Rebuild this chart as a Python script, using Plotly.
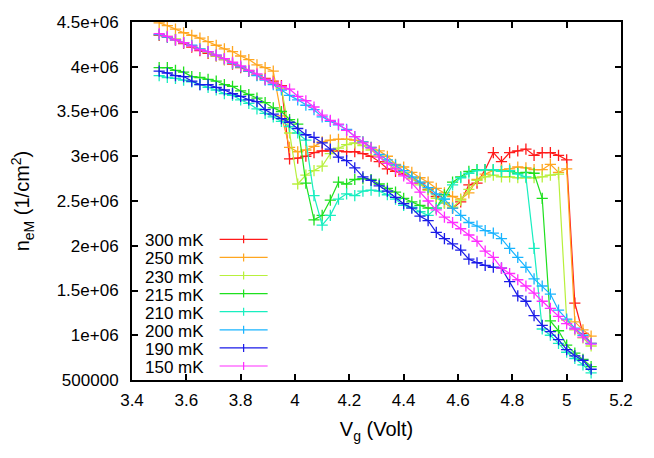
import plotly.graph_objects as go

# Gate voltage (Volt)
vg = [3.50, 3.53, 3.56, 3.59, 3.62, 3.65, 3.68, 3.71, 3.74, 3.77,
      3.80, 3.83, 3.86, 3.89, 3.92, 3.95, 3.98, 4.01, 4.04, 4.07,
      4.10, 4.13, 4.16, 4.19, 4.22, 4.25, 4.28, 4.31, 4.34, 4.37,
      4.40, 4.43, 4.46, 4.49, 4.52, 4.55, 4.58, 4.61, 4.64, 4.67,
      4.70, 4.73, 4.76, 4.79, 4.82, 4.85, 4.88, 4.91, 4.94, 4.97,
      5.00, 5.03, 5.06, 5.09]

# n_eM in units of 1e6 / cm^2
n_300 = [4.35, 4.33, 4.30, 4.26, 4.22, 4.18, 4.15, 4.12, 4.08, 4.03,
         3.99, 3.95, 3.91, 3.87, 3.84, 3.79, 2.97, 2.98, 3.00, 3.04,
         3.06, 3.06, 3.06, 3.05, 3.05, 3.03, 3.00, 2.94, 2.86, 2.83,
         2.80, 2.75, 2.70, 2.63, 2.55, 2.48, 2.42, 2.49, 2.68, 2.70,
         2.85, 3.04, 2.94, 3.04, 3.06, 3.08, 3.01, 3.04, 3.04, 3.01,
         2.96, 1.36, 1.02, 0.91]
n_250 = [4.49, 4.46, 4.42, 4.38, 4.35, 4.32, 4.28, 4.24, 4.20, 4.17,
         4.12, 4.08, 4.02, 3.99, 3.95, 3.45, 3.10, 3.05, 3.07, 3.11,
         3.16, 3.18, 3.19, 3.19, 3.18, 3.16, 3.10, 3.06, 3.00, 2.91,
         2.88, 2.82, 2.76, 2.71, 2.64, 2.59, 2.55, 2.52, 2.59, 2.74,
         2.80, 2.84, 2.85, 2.86, 2.88, 2.87, 2.85, 2.85, 2.91, 2.82,
         2.86, 1.15, 1.06, 0.99]
n_230 = [4.36, 4.34, 4.31, 4.27, 4.23, 4.20, 4.16, 4.12, 4.08, 4.04,
         4.00, 3.96, 3.91, 3.86, 3.82, 3.76, 3.26, 2.69, 2.79, 2.84,
         2.89, 3.03, 3.09, 3.13, 3.15, 3.12, 3.07, 3.00, 2.93, 2.87,
         2.82, 2.75, 2.68, 2.62, 2.53, 2.48, 2.43, 2.51, 2.63, 2.73,
         2.77, 2.79, 2.77, 2.77, 2.76, 2.76, 2.76, 2.77, 2.79, 2.80,
         1.17, 1.06, 0.97, 0.88]
n_215 = [3.99, 3.99, 3.96, 3.94, 3.89, 3.88, 3.86, 3.84, 3.80, 3.78,
         3.73, 3.69, 3.65, 3.60, 3.54, 3.50, 3.41, 3.36, 2.70, 2.29,
         2.34, 2.51, 2.71, 2.69, 2.74, 2.75, 2.74, 2.69, 2.64, 2.60,
         2.53, 2.49, 2.45, 2.42, 2.42, 2.57, 2.71, 2.77, 2.83, 2.85,
         2.85, 2.85, 2.83, 2.83, 2.81, 2.82, 2.81, 2.53, 1.16, 1.05,
         0.89, 0.80, 0.73, 0.65]
n_210 = [3.90, 3.88, 3.87, 3.85, 3.83, 3.80, 3.77, 3.74, 3.70, 3.68,
         3.63, 3.59, 3.53, 3.48, 3.44, 3.39, 3.33, 3.26, 3.18, 2.56,
         2.23, 2.34, 2.52, 2.58, 2.56, 2.61, 2.62, 2.61, 2.57, 2.52,
         2.45, 2.43, 2.38, 2.34, 2.42, 2.52, 2.68, 2.76, 2.81, 2.84,
         2.85, 2.85, 2.83, 2.84, 2.80, 2.77, 1.97, 1.07, 1.00, 0.91,
         0.81, 0.74, 0.67, 0.58]
n_200 = [4.36, 4.33, 4.30, 4.27, 4.24, 4.20, 4.17, 4.13, 4.09, 4.04,
         4.00, 3.95, 3.90, 3.85, 3.80, 3.74, 3.68, 3.63, 3.57, 3.52,
         3.44, 3.39, 3.35, 3.30, 3.22, 3.16, 3.10, 3.02, 2.96, 2.90,
         2.84, 2.77, 2.71, 2.65, 2.58, 2.52, 2.42, 2.34, 2.26, 2.22,
         2.17, 2.14, 2.08, 1.97, 1.87, 1.76, 1.63, 1.55, 1.46, 1.28,
         1.18, 1.08, 1.00, 0.91]
n_190 = [3.95, 3.93, 3.90, 3.89, 3.84, 3.80, 3.80, 3.77, 3.74, 3.70,
         3.67, 3.63, 3.61, 3.52, 3.47, 3.42, 3.38, 3.31, 3.24, 3.21,
         3.15, 3.08, 2.99, 2.95, 2.87, 2.77, 2.73, 2.67, 2.61, 2.54,
         2.47, 2.42, 2.33, 2.28, 2.15, 2.08, 2.02, 1.95, 1.85, 1.81,
         1.78, 1.76, 1.75, 1.60, 1.44, 1.38, 1.22, 1.11, 1.04, 0.95,
         0.84, 0.77, 0.72, 0.62]
n_150 = [4.37, 4.34, 4.30, 4.27, 4.23, 4.19, 4.17, 4.13, 4.09, 4.05,
         4.01, 3.96, 3.92, 3.86, 3.82, 3.78, 3.75, 3.67, 3.62, 3.55,
         3.46, 3.40, 3.36, 3.29, 3.22, 3.15, 3.09, 2.99, 2.92, 2.86,
         2.78, 2.70, 2.60, 2.50, 2.40, 2.32, 2.26, 2.19, 2.12, 2.05,
         1.94, 1.87, 1.75, 1.69, 1.62, 1.55, 1.47, 1.38, 1.30, 1.21,
         1.13, 1.07, 0.98, 0.90]

labels = ["300 mK", "250 mK", "230 mK", "215 mK", "210 mK", "200 mK", "190 mK", "150 mK"]
series = [n_300, n_250, n_230, n_215, n_210, n_200, n_190, n_150]
colors = ["#ff1a1a", "#ffa620", "#b8f03c", "#1ee01e", "#18eec0", "#18b4ff", "#1a1ae8", "#ff2cff"]

xticks = [3.4, 3.6, 3.8, 4.0, 4.2, 4.4, 4.6, 4.8, 5.0, 5.2]
yticks = [500000, 1000000, 1500000, 2000000, 2500000, 3000000, 3500000, 4000000, 4500000]
ytick_text = ["500000", "1e+06", "1.5e+06", "2e+06", "2.5e+06", "3e+06", "3.5e+06", "4e+06", "4.5e+06"]

FONT = "Liberation Sans, Arial, sans-serif"

fig = go.Figure()
for lab, ys, col in zip(labels, series, colors):
    fig.add_trace(go.Scatter(
        x=vg, y=[v * 1e6 for v in ys], name=lab, mode="lines+markers",
        line=dict(color=col, width=1.2),
        marker=dict(symbol="cross-thin", size=8, line=dict(color=col, width=1.3)),
        showlegend=False,
    ))

# gnuplot-style key: text on the left, sample line with marker on the right
L, R, T, B = 132.4, 621.3, 22.0, 380.0
W, H = R - L, B - T
shapes = []
annotations = []
for k, (lab, col) in enumerate(zip(labels, colors)):
    py = 239.3 + 18.1 * k
    yp = (B - py) / H
    annotations.append(dict(
        x=(206 - L) / W, y=(B - py - 1.5) / H, xref="paper", yref="paper", text=lab,
        showarrow=False, xanchor="right", yanchor="middle",
        font=dict(family=FONT, size=17, color="black"),
    ))
    shapes.append(dict(type="line", xref="paper", yref="paper",
                       x0=(220 - L) / W, x1=(268 - L) / W, y0=yp, y1=yp,
                       line=dict(color=col, width=1.2)))
    shapes.append(dict(type="line", xref="paper", yref="paper",
                       x0=(244 - L) / W, x1=(244 - L) / W,
                       y0=yp - 4 / H, y1=yp + 4 / H,
                       line=dict(color=col, width=1.2)))

# the page body has an 8px offset; margins compensate so the plot area
# lands at x 132..621, y 22..380 in the window
fig.update_layout(
    width=654, height=458,
    margin=dict(l=124, r=41, t=14, b=86, autoexpand=False),
    paper_bgcolor="white", plot_bgcolor="white",
    font=dict(family=FONT, size=17, color="black"),
    shapes=shapes, annotations=annotations,
)
fig.update_xaxes(
    range=[3.4, 5.2], tickvals=xticks, ticktext=[f"{t:g}" for t in xticks],
    ticks="inside", ticklen=6, tickwidth=1.5, tickcolor="black",
    showline=True, linecolor="black", linewidth=2, mirror="ticks",
    showgrid=False, zeroline=False, ticklabelstandoff=4, automargin=False,
    title=dict(text="V<sub>g</sub> (Volt)", standoff=13),
)
fig.update_yaxes(
    range=[500000, 4500000], tickvals=yticks, ticktext=ytick_text,
    ticks="inside", ticklen=6, tickwidth=1.5, tickcolor="black",
    showline=True, linecolor="black", linewidth=2, mirror="ticks",
    showgrid=False, zeroline=False, ticklabelstandoff=8, automargin=False,
    title=dict(text="n<sub>eM</sub> (1/cm<sup>2</sup>)", standoff=24),
)

fig.write_html("out.html")
